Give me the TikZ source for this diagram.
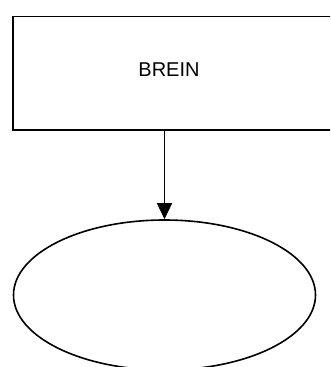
\documentclass[tikz,border=0pt]{standalone}
\usepackage{fontspec}
\setmainfont{Liberation Sans}
\usetikzlibrary{shapes.geometric,arrows.meta}
\begin{document}
\begin{tikzpicture}[x=1pt,y=-1pt,
  outline/.style={draw=black,line width=1.6pt},
  box/.style={outline,rectangle,inner sep=0pt},
  oval/.style={outline,ellipse,inner sep=0pt},
  link/.style={line width=1.5pt,-{Triangle[length=16pt,width=15pt]}}]
  \useasboundingbox (0,0) rectangle (330,367);
  \clip (0,0) rectangle (330,367);
  % upper box, its right side runs past the page edge
  \node[box,minimum width=332pt,minimum height=113.5pt] (brein) at (179,73.25) {};
  \node[font=\fontsize{20}{24}\selectfont] (breintext) at (169,70) {BREIN};
  % lower oval
  \node[oval,minimum width=302pt,minimum height=150pt] (oval) at (164.5,295) {};
  \draw[link] (brein.south -| oval.north) -- (oval.north);
\end{tikzpicture}
\end{document}
